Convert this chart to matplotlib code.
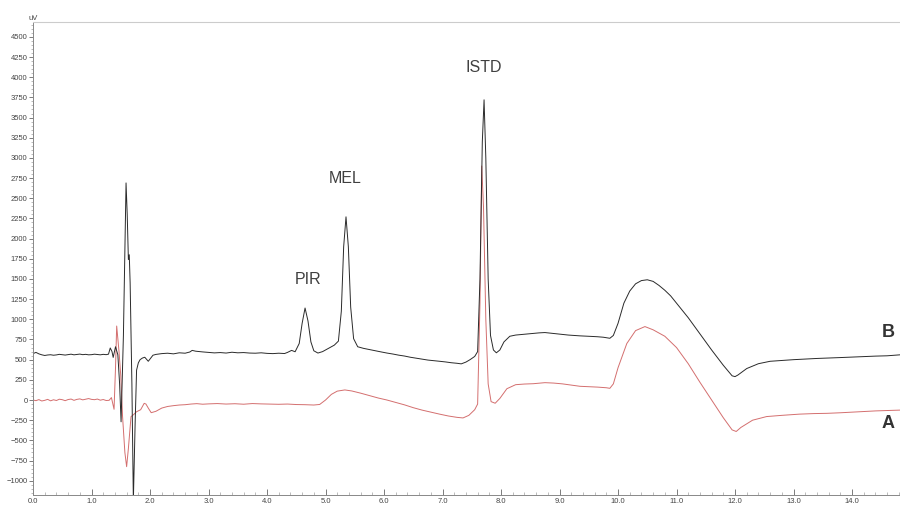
import matplotlib
matplotlib.use("Agg")
import matplotlib.pyplot as plt
from matplotlib.ticker import MultipleLocator, FormatStrFormatter

plt.rcParams["font.family"] = ["Liberation Sans", "DejaVu Sans"]

# ---- data ----
time_B = [0.00, 0.05, 0.10, 0.15, 0.20, 0.25, 0.30, 0.35, 0.40, 0.45, 0.50, 0.55, 0.60, 0.65,
          0.70, 0.75, 0.80, 0.85, 0.90, 0.95, 1.00, 1.05, 1.10, 1.15, 1.20, 1.25, 1.29,
          1.32, 1.35, 1.37, 1.41, 1.45, 1.48, 1.505, 1.545, 1.59, 1.61, 1.63, 1.645, 1.66,
          1.69, 1.715, 1.745, 1.77, 1.80, 1.83, 1.87, 1.91, 1.97, 2.05, 2.10, 2.20, 2.30, 2.40,
          2.50, 2.60, 2.68, 2.72, 2.78, 2.90, 3.00, 3.10, 3.20, 3.30, 3.40, 3.50, 3.60, 3.70,
          3.80, 3.90, 4.00, 4.10, 4.20, 4.30, 4.35, 4.42, 4.48, 4.55, 4.60, 4.65, 4.70, 4.75,
          4.80, 4.87, 4.95, 5.05, 5.15, 5.22, 5.27, 5.31, 5.35, 5.39, 5.43, 5.48, 5.55, 5.65,
          5.75, 5.85, 5.95, 6.05, 6.15, 6.25, 6.35, 6.45, 6.55, 6.65, 6.75, 6.85, 6.95, 7.05,
          7.15, 7.25, 7.32, 7.40, 7.47, 7.55, 7.60, 7.64, 7.68, 7.71, 7.74, 7.78, 7.82, 7.87,
          7.92, 7.98, 8.05, 8.15, 8.25, 8.35, 8.45, 8.55, 8.65, 8.75, 8.85, 8.95, 9.05, 9.15,
          9.25, 9.35, 9.45, 9.55, 9.65, 9.75, 9.86, 9.92, 10.00, 10.10, 10.20, 10.30, 10.40,
          10.50, 10.60, 10.70, 10.80, 10.90, 11.00, 11.20, 11.40, 11.60, 11.80, 11.95, 12.00,
          12.05, 12.20, 12.40, 12.60, 12.80, 13.00, 13.20, 13.40, 13.60, 13.80, 14.00, 14.20,
          14.40, 14.60, 14.82]
signal_B = [575, 590, 572, 560, 552, 558, 561, 555, 559, 566, 562, 557, 563, 568,
            560, 565, 569, 562, 566, 560, 562, 568, 564, 560, 566, 562, 568,
            645, 600, 528, 660, 560, 200, -270, 800, 2690, 2300, 1740, 1800, 1450,
            200, -1250, -300, 370, 460, 500, 520, 530, 480, 555, 565, 575, 580, 572,
            585, 580, 595, 615, 605, 596, 590, 584, 588, 582, 592, 585, 588, 582,
            580, 585, 578, 575, 580, 576, 590, 615, 598, 700, 950, 1140, 980, 720,
            610, 582, 600, 640, 680, 730, 1100, 1900, 2270, 1900, 1150, 760, 660, 640,
            625, 610, 596, 582, 570, 556, 545, 530, 518, 505, 495, 488, 480, 472,
            462, 455, 448, 470, 500, 540, 600, 1500, 3200, 3720, 3000, 1500, 800, 620,
            585, 620, 720, 790, 805, 812, 818, 826, 832, 836, 828, 820, 812, 805,
            800, 795, 792, 788, 784, 778, 765, 800, 950, 1200, 1350, 1440, 1480,
            1490, 1470, 1420, 1360, 1290, 1200, 1020, 820, 620, 430, 300, 290,
            310, 390, 450, 480, 490, 500, 508, 515, 520, 526, 532, 538,
            544, 548, 560]

time_A = [0.00, 0.05, 0.10, 0.15, 0.20, 0.25, 0.30, 0.35, 0.40, 0.45, 0.50, 0.55, 0.60, 0.65,
          0.70, 0.75, 0.80, 0.85, 0.90, 0.95, 1.00, 1.05, 1.10, 1.15, 1.20, 1.25, 1.30,
          1.34, 1.385, 1.41, 1.43, 1.45, 1.47, 1.50, 1.53, 1.57, 1.60, 1.63, 1.675, 1.72, 1.77,
          1.84, 1.90, 1.93, 1.97, 2.02, 2.10, 2.20, 2.30, 2.40, 2.50, 2.60, 2.70, 2.80, 2.90,
          3.00, 3.15, 3.30, 3.45, 3.60, 3.75, 3.90, 4.05, 4.20, 4.35, 4.50, 4.65, 4.80, 4.90,
          5.00, 5.10, 5.20, 5.33, 5.45, 5.60, 5.75, 5.90, 6.05, 6.20, 6.35, 6.50, 6.65, 6.80,
          6.95, 7.10, 7.25, 7.35, 7.45, 7.55, 7.60, 7.64, 7.67, 7.70, 7.74, 7.78, 7.83, 7.90,
          7.98, 8.10, 8.25, 8.40, 8.55, 8.75, 8.90, 9.05, 9.20, 9.35, 9.50, 9.65, 9.80, 9.86,
          9.92, 10.00, 10.15, 10.30, 10.46, 10.60, 10.80, 11.00, 11.20, 11.40, 11.60, 11.80,
          11.95, 12.02, 12.10, 12.30, 12.54, 12.80, 13.10, 13.35, 13.57, 13.80, 14.00, 14.20,
          14.40, 14.60, 14.82]
signal_A = [0, -8, 5, -12, -4, 8, -10, 3, -6, 10, 4, -8, 6, 12,
            -4, 8, 14, 2, 10, 18, 8, 4, 12, -2, 6, -6, -4,
            30, -115, 400, 917, 760, 600, 300, -200, -650, -826, -600, -206, -180, -145,
            -120, -41, -50, -100, -157, -140, -100, -80, -70, -62, -58, -50, -45, -52,
            -48, -44, -50, -46, -52, -44, -48, -50, -53, -50, -56, -58, -62, -55,
            0, 70, 110, 125, 112, 85, 55, 25, 0, -30, -60, -95, -125, -150,
            -175, -198, -215, -222, -190, -120, -50, 1200, 2900, 2400, 1000, 200, -20, -40,
            20, 140, 190, 198, 202, 215, 210, 200, 185, 170, 165, 160, 152, 145,
            200, 400, 700, 860, 910, 870, 790, 650, 450, 220, 0, -220,
            -370, -390, -340, -250, -205, -190, -175, -168, -165, -158, -150, -142,
            -135, -130, -125]

peak_labels = ["PIR", "MEL", "ISTD"]
peak_label_time = [4.70, 5.33, 7.71]
peak_label_value = [1490, 2750, 4115]

trace_labels = ["B", "A"]
trace_label_value = [840, -285]

# ---- figure ----
fig = plt.figure(figsize=(9, 5.05), dpi=100)
ax = fig.add_axes([0.0367, 0.0198, 0.9633, 0.9366])

ax.plot(time_A, signal_A, color="#cf5f5f", lw=0.7, alpha=0.9)
ax.plot(time_B, signal_B, color="#2a2a2a", lw=0.7)

for lab, t, v in zip(peak_labels, peak_label_time, peak_label_value):
    ax.text(t, v, lab, ha="center", va="center", fontsize=11.5, color="#404040")
for lab, v in zip(trace_labels, trace_label_value):
    ax.text(14.62, v, lab, ha="center", va="center", fontsize=13, fontweight="bold", color="#333333")

ax.set_xlim(0, 14.82)
ax.set_ylim(-1177, 4684)

ax.yaxis.set_minor_locator(MultipleLocator(50))
ax.xaxis.set_major_locator(MultipleLocator(1.0))
ax.xaxis.set_minor_locator(MultipleLocator(0.2))
ax.xaxis.set_major_formatter(FormatStrFormatter("%.1f"))
ax.set_yticks(list(range(-1000, 4501, 250)))

ax.tick_params(axis="y", which="major", direction="out", length=3, width=0.6,
               labelsize=5.5, labelcolor="#444444", color="#666666", pad=1)
ax.tick_params(axis="y", which="minor", direction="out", length=1.5, width=0.4, color="#888888")
ax.tick_params(axis="x", which="major", direction="in", length=4, width=0.6,
               labelsize=5.5, labelcolor="#444444", color="#666666", pad=2)
ax.tick_params(axis="x", which="minor", direction="in", length=2, width=0.4, color="#888888")

ax.spines["right"].set_visible(False)
ax.spines["top"].set_color("#cccccc")
ax.spines["top"].set_linewidth(0.8)
ax.spines["left"].set_color("#888888")
ax.spines["left"].set_linewidth(0.7)
ax.spines["bottom"].set_color("#888888")
ax.spines["bottom"].set_linewidth(0.7)

fig.text(0.0367, 1 - 19 / 505, "uV", fontsize=5.5, color="#444444", ha="center", va="center")

fig.savefig("out.png", dpi=100)
